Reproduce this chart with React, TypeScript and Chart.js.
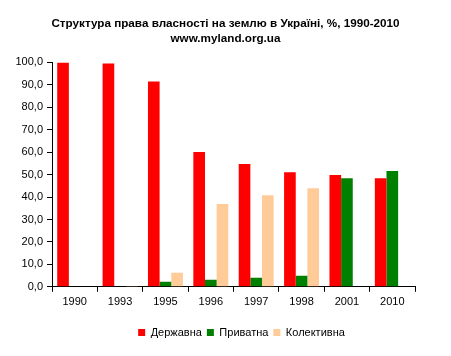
import React, { useEffect, useRef } from "react";
import { Chart, registerables } from "chart.js";

Chart.register(...registerables);

const categories = ["1990", "1993", "1995", "1996", "1997", "1998", "2001", "2010"];
const stateValues = [100.0, 99.5, 91.5, 60.1, 54.7, 51.1, 49.8, 48.4];
const privateValues = [0, 0, 2.2, 3.1, 4.0, 4.9, 48.4, 51.6];
const collectiveValues = [0, 0.4, 6.3, 36.9, 40.8, 43.9, 0, 0];
const seriesNames = ["Державна", "Приватна", "Колективна"];
const titleLines = ["Структура права власності на землю в Україні, %, 1990-2010", "www.myland.org.ua"];

const FONT = "'Liberation Sans', Arial, sans-serif";

const shiftPlugin = {
  id: "shiftBoxes",
  afterLayout(chart: any) {
    const t = chart.titleBlock;
    if (t) {
      t.left += 18;
      t.right += 18;
    }
    const l = chart.legend;
    if (l) {
      l.left += 34;
      l.right += 34;
    }
  },
};

export default function App() {
  const ref = useRef<HTMLCanvasElement | null>(null);
  useEffect(() => {
    if (!ref.current) return;
    const chart = new Chart(ref.current, {
      type: "bar",
      data: {
        labels: categories,
        datasets: [
          { label: seriesNames[0], data: stateValues, backgroundColor: "#FF0000" },
          { label: seriesNames[1], data: privateValues, backgroundColor: "#008000" },
          { label: seriesNames[2], data: collectiveValues, backgroundColor: "#FFCC99" },
        ],
      },
      plugins: [shiftPlugin],
      options: {
        animation: false,
        responsive: false,
        maintainAspectRatio: false,
        layout: { padding: { left: 0, right: 36, top: 0, bottom: 8 } },
        datasets: { bar: { categoryPercentage: 0.77, barPercentage: 1.0 } },
        plugins: {
          title: {
            display: true,
            text: titleLines,
            color: "#000",
            font: { family: FONT, size: 11.7, weight: "bold", lineHeight: 1.3 },
            padding: { top: 16, bottom: 16 },
          },
          legend: {
            position: "bottom",
            labels: {
              color: "#000",
              font: { family: FONT, size: 11 },
              boxWidth: 7,
              boxHeight: 7,
              padding: 5,
            },
          },
          tooltip: { enabled: false },
        },
        scales: {
          x: {
            offset: true,
            grid: { offset: true, drawOnChartArea: false, drawTicks: true, tickLength: 5, color: "#000" },
            border: { color: "#000", width: 1 },
            ticks: { color: "#000", font: { family: FONT, size: 11 }, padding: 4, maxRotation: 0 },
            afterFit: (scale: any) => {
              scale.height += 9;
            },
          },
          y: {
            min: 0,
            max: 100,
            grid: { drawOnChartArea: false, drawTicks: true, tickLength: 5, color: "#000" },
            border: { color: "#000", width: 1 },
            ticks: {
              stepSize: 10,
              color: "#000",
              font: { family: FONT, size: 11 },
              padding: 4,
              callback: (v: any) => Number(v).toFixed(1).replace(".", ","),
            },
            afterFit: (scale: any) => {
              scale.width = 52;
            },
          },
        },
      },
    });
    return () => chart.destroy();
  }, []);
  return (
    <div style={{ position: "fixed", left: 0, top: 0, width: 451, height: 356, background: "#fff" }}>
      <canvas ref={ref} width={451} height={356} style={{ width: 451, height: 356 }} />
    </div>
  );
}
